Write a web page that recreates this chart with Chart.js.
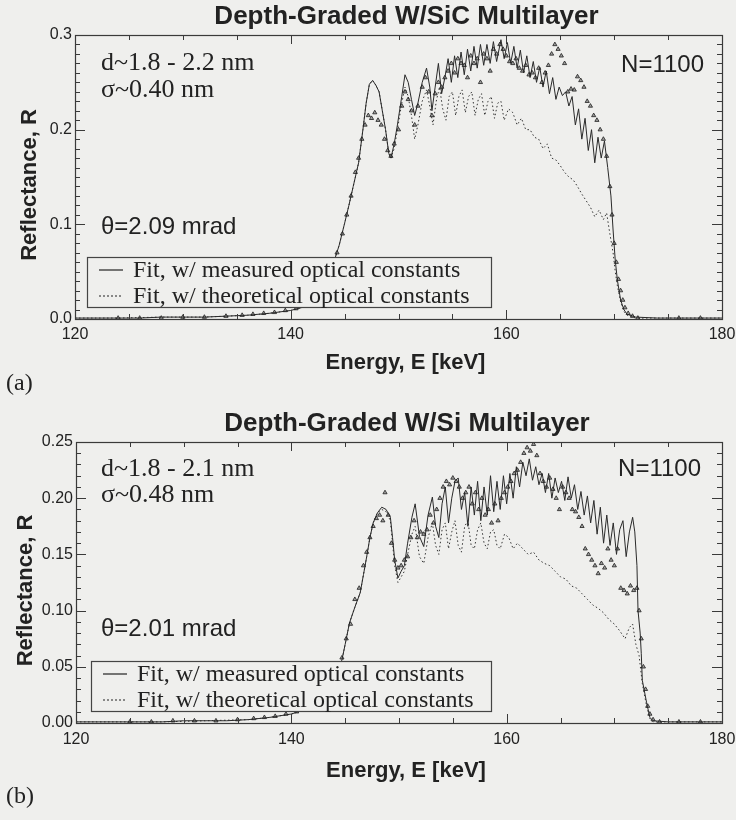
<!DOCTYPE html>
<html lang="en">
<head>
  <meta charset="UTF-8" />
  <title>Depth-Graded Multilayer Reflectance</title>
  <script src="https://cdn.jsdelivr.net/npm/chart.js"></script>
  <style>
    html, body { margin: 0; padding: 0; background: #efefed; }
    canvas { display: block; }
  </style>
</head>
<body>

  <!-- (a) W/SiC -->
  <canvas id="sicChart" width="736" height="410"></canvas>
  <!-- (b) W/Si -->
  <canvas id="siChart" width="736" height="410"></canvas>

  <script>
    // ---- shared axis labels ----
    const energyTicks = [120, 140, 160, 180];
    const sicYTicks = ['0.0', '0.1', '0.2', '0.3'];
    const siYTicks = ['0.00', '0.05', '0.10', '0.15', '0.20', '0.25'];

    // ---- (a) W/SiC : fit with measured optical constants ----
    const sicMeasE = [120, 122, 124, 126, 128, 130, 132, 134, 136, 138, 140, 141, 142, 142.8, 143.5, 144.0, 144.5, 145.0, 145.4, 145.8,
      146.3, 146.7, 147.0, 147.3, 147.6, 147.9, 148.2, 148.5, 148.8, 149.1, 149.3, 149.6, 149.9, 150.3, 150.6, 150.9, 151.2, 151.5, 151.8, 152.2,
      152.6, 152.9, 153.1, 153.4, 153.7, 154.0, 154.3, 154.6, 154.9, 155.2, 155.5, 155.8, 156.1, 156.4, 156.7, 157.0, 157.3, 157.6, 157.9, 158.2,
      158.5, 158.8, 159.1, 159.5, 159.8, 160.1, 160.4, 160.7, 161.0, 161.3, 161.6, 161.9, 162.2, 162.5, 162.8, 163.1, 163.4, 163.7, 164.0, 164.3,
      164.6, 164.9, 165.2, 165.5, 165.8, 166.1, 166.4, 166.7, 167.0, 167.3, 167.6, 167.9, 168.2, 168.5, 168.8, 169.1, 169.4, 169.7, 169.9, 170.1,
      170.3, 170.6, 170.9, 171.2, 172, 174, 176, 180];
    const sicMeasR = [0.001, 0.001, 0.001, 0.001, 0.002, 0.002, 0.002, 0.003, 0.004, 0.006, 0.009, 0.012, 0.018, 0.030, 0.045, 0.060, 0.078, 0.101, 0.120, 0.140,
      0.165, 0.200, 0.228, 0.248, 0.252, 0.247, 0.240, 0.220, 0.200, 0.175, 0.170, 0.185, 0.205, 0.235, 0.258, 0.250, 0.232, 0.215, 0.228, 0.250,
      0.265, 0.245, 0.220, 0.245, 0.270, 0.238, 0.255, 0.275, 0.250, 0.278, 0.255, 0.282, 0.258, 0.285, 0.262, 0.288, 0.265, 0.290, 0.268, 0.290,
      0.270, 0.293, 0.272, 0.295, 0.275, 0.292, 0.270, 0.288, 0.265, 0.284, 0.260, 0.278, 0.255, 0.272, 0.250, 0.266, 0.245, 0.262, 0.238, 0.255,
      0.232, 0.245, 0.236, 0.240, 0.225, 0.235, 0.205, 0.222, 0.190, 0.212, 0.178, 0.200, 0.165, 0.192, 0.170, 0.188, 0.160, 0.130, 0.094, 0.062,
      0.041, 0.020, 0.010, 0.005, 0.002, 0.001, 0.001, 0.001];

    // ---- (a) W/SiC : fit with theoretical optical constants ----
    const sicTheoE = [120, 124, 128, 132, 136, 138, 140, 141, 142, 142.8, 143.5, 144.0, 144.5, 145.0, 145.4, 145.8, 146.3, 146.7, 147.0, 147.3,
      147.6, 147.9, 148.2, 148.5, 148.8, 149.1, 149.3, 149.6, 149.9, 150.3, 150.6, 150.9, 151.2, 151.5, 151.8, 152.2, 152.6, 152.9, 153.2, 153.5,
      153.8, 154.1, 154.4, 154.7, 155.0, 155.3, 155.6, 155.9, 156.2, 156.5, 156.8, 157.1, 157.4, 157.7, 158.0, 158.3, 158.6, 158.9, 159.2, 159.5,
      159.8, 160.2, 160.6, 161.0, 161.4, 161.8, 162.2, 162.6, 163.0, 163.4, 163.8, 164.2, 164.6, 165.0, 165.4, 165.8, 166.2, 166.6, 167.0, 167.4,
      167.8, 168.2, 168.6, 169.0, 169.3, 169.6, 169.9, 170.1, 170.3, 170.6, 170.9, 171.2, 172, 180];
    const sicTheoR = [0.001, 0.001, 0.002, 0.002, 0.004, 0.006, 0.009, 0.012, 0.018, 0.030, 0.045, 0.060, 0.078, 0.101, 0.120, 0.140, 0.165, 0.200, 0.228, 0.248,
      0.252, 0.247, 0.240, 0.220, 0.200, 0.175, 0.170, 0.180, 0.200, 0.228, 0.245, 0.235, 0.215, 0.190, 0.205, 0.230, 0.242, 0.225, 0.205, 0.230,
      0.245, 0.222, 0.210, 0.235, 0.240, 0.215, 0.235, 0.242, 0.218, 0.235, 0.240, 0.215, 0.232, 0.238, 0.215, 0.230, 0.235, 0.212, 0.228, 0.230,
      0.210, 0.222, 0.218, 0.205, 0.212, 0.200, 0.200, 0.192, 0.190, 0.180, 0.185, 0.170, 0.168, 0.162, 0.155, 0.150, 0.147, 0.140, 0.132, 0.125,
      0.118, 0.108, 0.115, 0.105, 0.112, 0.090, 0.070, 0.050, 0.035, 0.018, 0.008, 0.004, 0.001, 0.001];

    // ---- (a) W/SiC : measured data (triangles) ----
    const sicDataE = [124, 126, 128, 130, 132, 134, 135.5, 136.5, 137.5, 138.5, 139.5, 140.5, 141.5, 142.5, 143.3, 143.8, 144.3, 144.8, 145.2, 145.6,
      146.0, 146.3, 146.6, 146.9, 147.2, 147.5, 147.8, 148.1, 148.4, 148.7, 149.0, 149.3, 149.6, 150.0, 150.3, 150.6, 150.9, 151.2, 151.5, 151.8,
      152.2, 152.5, 152.8, 153.1, 153.4, 153.7, 154.0, 154.3, 154.6, 154.9, 155.2, 155.5, 155.8, 156.1, 156.4, 156.7, 157.0, 157.3, 157.6, 157.9,
      158.2, 158.5, 158.8, 159.1, 159.4, 159.7, 160.0, 160.3, 160.6, 160.9, 161.2, 161.5, 161.8, 162.1, 162.4, 162.7, 163.0, 163.3, 163.6, 163.9,
      164.2, 164.5, 164.8, 165.1, 165.4, 165.7, 166.0, 166.3, 166.6, 166.9, 167.2, 167.5, 167.8, 168.1, 168.4, 168.7, 169.0, 169.3, 169.6, 169.8,
      170.0, 170.2, 170.4, 170.6, 170.8, 171.0, 171.3, 171.7, 172.2, 176, 178];
    const sicDataR = [0.001, 0.001, 0.001, 0.002, 0.002, 0.003, 0.004, 0.005, 0.006, 0.007, 0.009, 0.011, 0.015, 0.025, 0.040, 0.055, 0.070, 0.090, 0.110, 0.130,
      0.155, 0.170, 0.190, 0.205, 0.215, 0.212, 0.218, 0.210, 0.205, 0.190, 0.178, 0.172, 0.185, 0.200, 0.225, 0.240, 0.232, 0.220, 0.205, 0.225,
      0.245, 0.255, 0.240, 0.215, 0.238, 0.250, 0.245, 0.255, 0.262, 0.270, 0.260, 0.275, 0.270, 0.268, 0.255, 0.278, 0.270, 0.275, 0.250, 0.280,
      0.275, 0.262, 0.285, 0.280, 0.290, 0.285, 0.278, 0.272, 0.270, 0.275, 0.265, 0.262, 0.268, 0.258, 0.260, 0.255, 0.265, 0.250, 0.260, 0.268,
      0.280, 0.290, 0.285, 0.278, 0.270, 0.240, 0.243, 0.242, 0.256, 0.252, 0.245, 0.230, 0.225, 0.215, 0.210, 0.200, 0.190, 0.172, 0.140, 0.110,
      0.080, 0.060, 0.042, 0.030, 0.020, 0.012, 0.006, 0.003, 0.001, 0.001, 0.001];

    // ---- (b) W/Si : fit with measured optical constants ----
    const siMeasE = [120, 122, 124, 126, 128, 130, 132, 134, 136, 138, 140, 141, 142, 143, 143.8, 144.3, 144.7, 145.0, 145.4, 145.9,
      146.4, 146.7, 147.0, 147.3, 147.6, 148.0, 148.4, 148.8, 149.2, 149.4, 149.6, 149.9, 150.2, 150.5, 150.8, 151.2, 151.5, 151.9, 152.3, 152.7,
      153.1, 153.4, 153.7, 154.0, 154.3, 154.6, 154.9, 155.2, 155.5, 155.8, 156.1, 156.4, 156.7, 157.0, 157.3, 157.6, 157.9, 158.2, 158.5, 158.8,
      159.1, 159.4, 159.7, 160.0, 160.3, 160.6, 160.9, 161.2, 161.5, 161.8, 162.1, 162.4, 162.7, 163.0, 163.3, 163.6, 163.9, 164.2, 164.5, 164.8,
      165.1, 165.4, 165.7, 166.0, 166.3, 166.6, 166.9, 167.2, 167.5, 167.8, 168.1, 168.4, 168.7, 169.0, 169.3, 169.6, 169.9, 170.2, 170.5, 170.8,
      171.1, 171.4, 171.7, 171.9, 172.1, 172.2, 172.4, 172.5, 172.6, 173.0, 173.3, 173.6, 175, 180];
    const siMeasR = [0.001, 0.001, 0.001, 0.001, 0.001, 0.002, 0.002, 0.002, 0.003, 0.005, 0.008, 0.011, 0.015, 0.022, 0.035, 0.048, 0.056, 0.070, 0.089, 0.103,
      0.116, 0.132, 0.148, 0.165, 0.178, 0.187, 0.192, 0.190, 0.183, 0.165, 0.145, 0.129, 0.135, 0.140, 0.160, 0.183, 0.195, 0.166, 0.157, 0.185,
      0.201, 0.175, 0.165, 0.195, 0.210, 0.178, 0.200, 0.215, 0.218, 0.190, 0.205, 0.175, 0.210, 0.185, 0.215, 0.180, 0.210, 0.185, 0.220, 0.188,
      0.215, 0.190, 0.220, 0.195, 0.222, 0.200, 0.228, 0.210, 0.232, 0.220, 0.235, 0.216, 0.228, 0.212, 0.222, 0.205, 0.222, 0.200, 0.218, 0.205,
      0.215, 0.198, 0.219, 0.200, 0.212, 0.190, 0.206, 0.185, 0.202, 0.178, 0.198, 0.168, 0.192, 0.160, 0.185, 0.158, 0.178, 0.150, 0.172, 0.180,
      0.148, 0.170, 0.183, 0.170, 0.140, 0.100, 0.080, 0.062, 0.038, 0.018, 0.005, 0.002, 0.001, 0.001];

    // ---- (b) W/Si : fit with theoretical optical constants ----
    const siTheoE = [120, 124, 128, 132, 136, 138, 140, 141, 142, 143, 143.8, 144.3, 144.7, 145.0, 145.4, 145.9, 146.4, 146.7, 147.0, 147.3,
      147.6, 148.0, 148.4, 148.8, 149.2, 149.4, 149.6, 149.9, 150.2, 150.5, 150.8, 151.2, 151.5, 151.9, 152.3, 152.7, 153.1, 153.4, 153.7, 154.0,
      154.3, 154.6, 154.9, 155.2, 155.5, 155.8, 156.1, 156.4, 156.7, 157.0, 157.3, 157.6, 157.9, 158.2, 158.5, 158.8, 159.1, 159.4, 159.8, 160.2,
      160.6, 161.0, 161.5, 162.0, 162.5, 163.0, 163.5, 164.0, 164.5, 165.0, 165.5, 166.0, 166.5, 167.0, 167.5, 168.0, 168.5, 169.0, 169.5, 170.0,
      170.5, 171.0, 171.4, 171.7, 172.0, 172.3, 172.6, 173.0, 173.3, 173.6, 180];
    const siTheoR = [0.001, 0.001, 0.001, 0.002, 0.003, 0.005, 0.008, 0.011, 0.015, 0.022, 0.035, 0.048, 0.056, 0.070, 0.089, 0.103, 0.116, 0.132, 0.148, 0.165,
      0.178, 0.187, 0.190, 0.188, 0.180, 0.160, 0.140, 0.125, 0.130, 0.135, 0.150, 0.168, 0.175, 0.148, 0.142, 0.165, 0.178, 0.158, 0.150, 0.172,
      0.178, 0.155, 0.170, 0.180, 0.158, 0.152, 0.175, 0.180, 0.158, 0.155, 0.172, 0.178, 0.160, 0.155, 0.170, 0.172, 0.158, 0.155, 0.168, 0.165,
      0.155, 0.160, 0.155, 0.150, 0.152, 0.145, 0.142, 0.140, 0.135, 0.130, 0.128, 0.122, 0.120, 0.115, 0.110, 0.105, 0.102, 0.098, 0.092, 0.088,
      0.082, 0.075, 0.085, 0.088, 0.070, 0.060, 0.035, 0.015, 0.004, 0.001, 0.001];

    // ---- (b) W/Si : measured data (triangles) ----
    const siDataE = [125, 127, 129, 131, 133, 135, 136.5, 137.5, 138.5, 139.5, 140.5, 141.5, 142.5, 143.5, 144.3, 144.7, 145.1, 145.5, 145.9, 146.3,
      146.7, 147.0, 147.3, 147.6, 147.9, 148.2, 148.5, 148.7, 149.0, 149.3, 149.6, 149.9, 150.2, 150.5, 150.8, 151.1, 151.4, 151.7, 152.0, 152.3,
      152.6, 152.9, 153.2, 153.5, 153.8, 154.1, 154.4, 154.7, 155.0, 155.3, 155.6, 155.9, 156.2, 156.5, 156.8, 157.1, 157.4, 157.7, 158.0, 158.3,
      158.6, 158.9, 159.2, 159.5, 159.8, 160.1, 160.4, 160.7, 161.0, 161.3, 161.6, 161.9, 162.2, 162.5, 162.8, 163.1, 163.4, 163.7, 164.0, 164.3,
      164.6, 164.9, 165.2, 165.5, 165.8, 166.1, 166.4, 166.7, 167.0, 167.3, 167.6, 167.9, 168.2, 168.5, 168.8, 169.1, 169.4, 169.7, 170.0, 170.3,
      170.6, 170.9, 171.2, 171.5, 171.8, 172.1, 172.3, 172.5, 172.7, 172.9, 173.1, 173.3, 173.6, 174.2, 176, 178];
    const siDataR = [0.001, 0.001, 0.002, 0.002, 0.002, 0.003, 0.004, 0.005, 0.006, 0.008, 0.010, 0.013, 0.018, 0.030, 0.048, 0.058, 0.075, 0.088, 0.110, 0.120,
      0.140, 0.152, 0.165, 0.175, 0.182, 0.185, 0.180, 0.205, 0.185, 0.160, 0.145, 0.138, 0.140, 0.145, 0.148, 0.165, 0.180, 0.165, 0.170, 0.168,
      0.172, 0.185, 0.178, 0.190, 0.200, 0.210, 0.215, 0.212, 0.218, 0.215, 0.210, 0.200, 0.205, 0.210, 0.195, 0.205, 0.190, 0.200, 0.185, 0.190,
      0.178, 0.195, 0.180, 0.200, 0.205, 0.210, 0.215, 0.222, 0.225, 0.232, 0.240, 0.245, 0.242, 0.248, 0.238, 0.222, 0.215, 0.210, 0.218, 0.208,
      0.200, 0.190, 0.210, 0.205, 0.200, 0.190, 0.188, 0.183, 0.175, 0.155, 0.150, 0.145, 0.140, 0.133, 0.142, 0.138, 0.155, 0.145, 0.140, 0.155,
      0.120, 0.118, 0.115, 0.122, 0.118, 0.120, 0.100, 0.075, 0.050, 0.030, 0.015, 0.008, 0.003, 0.001, 0.001, 0.001];

    const toPoints = (xs, ys) => xs.map((e, i) => ({ x: e, y: ys[i] }));

    // frame, inward ticks, labels, notes and legend box drawn on top of the plot
    const framePlugin = {
      id: 'frame',
      beforeDraw(chart) {
        const ctx = chart.ctx;
        ctx.save();
        ctx.fillStyle = '#efefed';
        ctx.fillRect(0, 0, chart.width, chart.height);
        ctx.restore();
      },
      afterDraw(chart, args, o) {
        const { ctx, chartArea: a, scales: { x, y } } = chart;
        ctx.save();
        ctx.strokeStyle = '#3a3a3a';
        ctx.fillStyle = '#222';
        ctx.lineWidth = 1.2;
        ctx.strokeRect(a.left + 0.5, a.top + 0.5, a.right - a.left, a.bottom - a.top);

        // x ticks every 5 keV, majors every 20
        ctx.lineWidth = 1;
        for (let v = x.min; v <= x.max; v += 5) {
          const px = Math.round(x.getPixelForValue(v)) + 0.5;
          const len = (v % 20 === 0) ? 9 : 5;
          ctx.beginPath();
          ctx.moveTo(px, a.bottom); ctx.lineTo(px, a.bottom - len);
          ctx.moveTo(px, a.top); ctx.lineTo(px, a.top + len);
          ctx.stroke();
        }
        // y ticks every 0.01
        const nMinor = Math.round(y.max / 0.01);
        const majorEvery = Math.round(o.yMajor / 0.01);
        for (let i = 0; i <= nMinor; i++) {
          const py = Math.round(y.getPixelForValue(i * 0.01)) + 0.5;
          const len = (i % majorEvery === 0) ? 10 : 5;
          ctx.beginPath();
          ctx.moveTo(a.left, py); ctx.lineTo(a.left + len, py);
          ctx.moveTo(a.right, py); ctx.lineTo(a.right - len, py);
          ctx.stroke();
        }

        // tick labels
        ctx.font = '16px "Liberation Sans", Arial, sans-serif';
        ctx.textAlign = 'center';
        ctx.textBaseline = 'middle';
        energyTicks.forEach(v => ctx.fillText(String(v), x.getPixelForValue(v), a.bottom + o.xLabelGap));
        ctx.textAlign = 'right';
        o.yLabels.forEach((lab, i) => ctx.fillText(lab, a.left - 3, y.getPixelForValue(i * o.yMajor)));

        // axis titles
        ctx.font = 'bold 22px "Liberation Sans", Arial, sans-serif';
        ctx.textAlign = 'center';
        ctx.fillText('Energy, E [keV]', (a.left + a.right) / 2 + 7, a.bottom + o.xTitleGap);
        ctx.save();
        ctx.translate(o.yTitleX, (a.top + a.bottom) / 2 + 8);
        ctx.rotate(-Math.PI / 2);
        ctx.fillText('Reflectance, R', 0, 0);
        ctx.restore();

        // main title
        ctx.font = 'bold 26px "Liberation Sans", Arial, sans-serif';
        ctx.fillText(o.title, (a.left + a.right) / 2 + 8, a.top - 18);

        // panel letter
        ctx.font = '24px "Liberation Serif", "Times New Roman", serif';
        ctx.textAlign = 'left';
        ctx.fillText(o.panel, 6, a.bottom + o.panelGap);

        // notes inside the plot
        o.notes.forEach(n => {
          ctx.font = n.font;
          ctx.textAlign = n.align || 'left';
          ctx.fillText(n.text, n.right ? a.right - n.dx : a.left + n.dx, a.top + n.dy);
        });

        // legend box
        const L = o.legend;
        const bx = a.left + L.dx, by = a.top + L.dy;
        ctx.fillStyle = '#efefed';
        ctx.fillRect(bx, by, L.w, L.h);
        ctx.strokeStyle = '#444';
        ctx.lineWidth = 1.2;
        ctx.strokeRect(bx + 0.5, by + 0.5, L.w, L.h);
        ctx.fillStyle = '#222';
        ctx.font = '24px "Liberation Serif", "Times New Roman", serif';
        ctx.textAlign = 'left';
        [0, 1].forEach(k => {
          const ds = chart.data.datasets[k];
          const ly = by + 13 + k * 26;
          ctx.strokeStyle = '#222';
          ctx.lineWidth = 1.2;
          ctx.setLineDash(k === 0 ? [] : [2, 2]);
          ctx.beginPath();
          ctx.moveTo(bx + 12, ly); ctx.lineTo(bx + 36, ly);
          ctx.stroke();
          ctx.setLineDash([]);
          ctx.fillText(ds.label, bx + 46, ly + 1);
        });
        ctx.restore();
      }
    };

    function makeChart(id, meas, theo, data, pad, yMax, frameOpts) {
      return new Chart(document.getElementById(id), {
        type: 'scatter',
        data: {
          datasets: [
            {
              label: 'Fit, w/ measured optical constants',
              data: meas,
              showLine: true,
              borderColor: '#2a2a2a',
              borderWidth: 1,
              pointRadius: 0,
              order: 2
            },
            {
              label: 'Fit, w/ theoretical optical constants',
              data: theo,
              showLine: true,
              borderColor: '#333',
              borderWidth: 1,
              borderDash: [1.5, 2.5],
              pointRadius: 0,
              order: 3
            },
            {
              label: 'Measured',
              data: data,
              showLine: false,
              pointStyle: 'triangle',
              pointRadius: 2.4,
              borderWidth: 0.8,
              borderColor: '#1e1e1e',
              backgroundColor: 'rgba(80,80,80,0.5)',
              order: 1
            }
          ]
        },
        options: {
          responsive: false,
          animation: false,
          layout: { padding: pad },
          plugins: {
            legend: { display: false },
            tooltip: { enabled: false },
            frame: frameOpts
          },
          scales: {
            x: { type: 'linear', min: 120, max: 180, display: false },
            y: { type: 'linear', min: 0, max: yMax, display: false }
          }
        },
        plugins: [framePlugin]
      });
    }

    const serifNote = '26px "Liberation Serif", "Times New Roman", serif';
    const sansNote = '24px "Liberation Sans", Arial, sans-serif';

    makeChart('sicChart',
      toPoints(sicMeasE, sicMeasR), toPoints(sicTheoE, sicTheoR), toPoints(sicDataE, sicDataR),
      { left: 75, right: 14, top: 35, bottom: 91 }, 0.3,
      {
        title: 'Depth-Graded W/SiC Multilayer',
        panel: '(a)',
        yLabels: sicYTicks,
        yMajor: 0.1,
        xLabelGap: 16, xTitleGap: 44, yTitleX: 30, panelGap: 65,
        notes: [
          { text: 'd~1.8 - 2.2 nm', font: serifNote, dx: 26, dy: 28 },
          { text: 'σ~0.40 nm', font: serifNote, dx: 26, dy: 55 },
          { text: 'θ=2.09 mrad', font: sansNote, dx: 26, dy: 192 },
          { text: 'N=1100', font: sansNote, dx: 18, dy: 30, right: true, align: 'right' }
        ],
        legend: { dx: 12, dy: 222, w: 404, h: 50 }
      });

    makeChart('siChart',
      toPoints(siMeasE, siMeasR), toPoints(siTheoE, siTheoR), toPoints(siDataE, siDataR),
      { left: 76, right: 14, top: 32, bottom: 97 }, 0.25,
      {
        title: 'Depth-Graded W/Si Multilayer',
        panel: '(b)',
        yLabels: siYTicks,
        yMajor: 0.05,
        xLabelGap: 17, xTitleGap: 48, yTitleX: 26, panelGap: 74,
        notes: [
          { text: 'd~1.8 - 2.1 nm', font: serifNote, dx: 25, dy: 27 },
          { text: 'σ~0.48 nm', font: serifNote, dx: 25, dy: 53 },
          { text: 'θ=2.01 mrad', font: sansNote, dx: 25, dy: 187 },
          { text: 'N=1100', font: sansNote, dx: 21, dy: 27, right: true, align: 'right' }
        ],
        legend: { dx: 15, dy: 219, w: 400, h: 50 }
      });
  </script>

</body>
</html>
